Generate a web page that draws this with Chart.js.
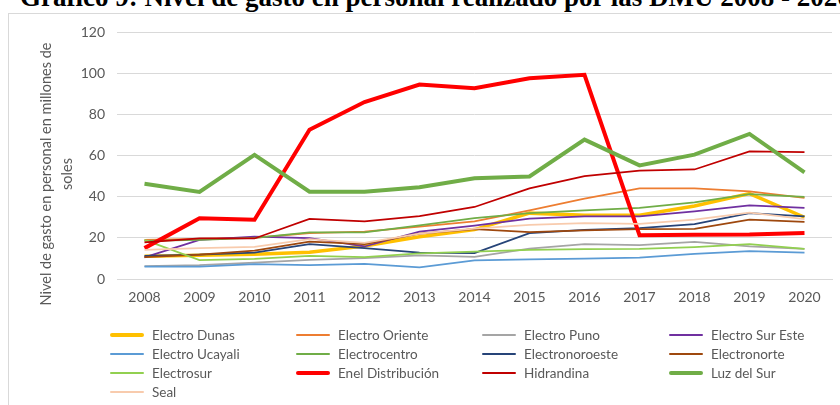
<!DOCTYPE html>
<html>
<head>
<meta charset="utf-8">
<script src="https://cdn.jsdelivr.net/npm/chart.js@4/dist/chart.umd.min.js"></script>
<style>
  html, body { margin: 0; padding: 0; background: #fff; }
  body { width: 840px; height: 405px; position: relative; overflow: hidden; font-family: Lato, "Open Sans", sans-serif; }
  #title { position: absolute; left: 20px; top: -16px; white-space: nowrap; font-family: "Liberation Serif", "DejaVu Serif", serif; font-weight: bold; font-size: 27px; line-height: 27px; color: #000; }
  #frame { position: absolute; left: 8px; top: 13px; width: 850px; height: 420px; border: 1px solid #d9d9d9; box-sizing: border-box; background: #fff; }
  #wrap { position: absolute; left: 0; top: 0; width: 840px; height: 320px; }
  #ytitle { position: absolute; left: 56px; top: 174px; width: 320px; transform: translate(-50%, -50%) rotate(-90deg); text-align: center; font-size: 14.5px; line-height: 21px; color: #595959; }
  #legend { position: absolute; left: 0; top: 0; width: 840px; height: 405px; pointer-events: none; }
  .li { position: absolute; height: 19px; display: flex; align-items: center; font-size: 13.5px; color: #595959; white-space: nowrap; }
  .li span.sw { display: inline-block; width: 34px; margin-right: 8px; border-radius: 2px; }
</style>
</head>
<body>
<div id="frame"></div>
<div id="title">Gráfico 9: Nivel de gasto en personal realizado por las DMU 2008 - 2020</div>
<div id="wrap"><canvas id="c"></canvas></div>
<div id="ytitle">Nivel de gasto en personal en millones de<br>soles</div>
<div id="legend"></div>
<script>
const years = ['2008','2009','2010','2011','2012','2013','2014','2015','2016','2017','2018','2019','2020'];
const yTicks = [0, 20, 40, 60, 80, 100, 120];

const seriesNames = ['Electro Dunas','Electro Oriente','Electro Puno','Electro Sur Este','Electro Ucayali','Electrocentro','Electronoroeste','Electronorte','Electrosur','Enel Distribución','Hidrandina','Luz del Sur','Seal'];

const electroDunas     = [11, 11.5, 12, 13, 16, 20.5, 24, 32, 31, 31, 35.5, 41.5, 30];
const electroOriente   = [19, 19.5, 20, 22.3, 23, 25.5, 28, 33.3, 39, 44, 44, 42.6, 39.4];
const electroPuno      = [6.3, 6.8, 8, 9.3, 10.1, 11.5, 10.8, 14.8, 17, 16.4, 18, 15.8, 14.6];
const electroSurEste   = [10.5, 19, 20.6, 19.8, 15.8, 23, 25.9, 29.3, 30.4, 30.4, 32.9, 35.8, 34.5];
const electroUcayali   = [6, 6, 7.2, 6.7, 7.3, 5.7, 9, 9.5, 9.9, 10.4, 12.2, 13.6, 12.8];
const electrocentro    = [18.5, 19, 20, 22.6, 22.6, 26, 29.6, 32, 33.3, 34.5, 37.2, 41.2, 39.9];
const electronoroeste  = [11.2, 11.8, 12.8, 16.9, 15, 12.8, 12.6, 22.3, 23.9, 24.7, 26.7, 32, 30.4];
const electronorte     = [10.6, 11.9, 13.8, 18.2, 16.9, 22, 24.2, 22.8, 23.6, 24.2, 24.4, 28.8, 27.7];
const electrosur       = [19, 9.2, 9.8, 11.2, 10.6, 12.5, 13.3, 14.1, 14.5, 14.6, 15.5, 16.9, 14.6];
const enelDistribucion = [15, 29.5, 28.8, 72.5, 86, 94.5, 92.7, 97.5, 99.2, 21.3, 21.5, 21.6, 22.4];
const hidrandina       = [17.8, 19.7, 19.7, 29.2, 28, 30.6, 35, 44, 50, 52.7, 53.2, 62, 61.6];
const luzDelSur        = [46.3, 42.3, 60.3, 42.4, 42.4, 44.6, 48.9, 49.8, 67.7, 55.2, 60.4, 70.5, 51.8];
const seal             = [14.1, 15, 15.6, 19.4, 17.5, 22, 24.5, 26.3, 27.2, 26.8, 28.8, 32.2, 29.1];

const seriesValues = [electroDunas, electroOriente, electroPuno, electroSurEste, electroUcayali, electrocentro, electronoroeste, electronorte, electrosur, enelDistribucion, hidrandina, luzDelSur, seal];

const seriesColors = ['#FFC000','#ED7D31','#A5A5A5','#7030A0','#5B9BD5','#70AD47','#264478','#9E480E','#92D050','#FF0000','#C00000','#70AD47','#F8CBAD'];
const seriesWidths = [3.5, 1.75, 1.75, 1.75, 1.75, 1.75, 1.75, 1.75, 1.75, 4, 1.75, 4, 1.75];

const N = seriesNames.length;
const datasets = seriesNames.map((name, i) => ({
  label: name,
  data: seriesValues[i],
  borderColor: seriesColors[i],
  backgroundColor: seriesColors[i],
  borderWidth: seriesWidths[i],
  pointRadius: 0,
  pointHoverRadius: 0,
  tension: 0,
  fill: false,
  order: N - 1 - i
}));

const tickFont = { family: 'Lato', size: 14 };

new Chart(document.getElementById('c'), {
  type: 'line',
  data: { labels: years, datasets },
  options: {
    responsive: true,
    maintainAspectRatio: false,
    animation: false,
    events: [],
    layout: { padding: { top: 32, right: 8, left: 0, bottom: 0 } },
    plugins: { legend: { display: false }, tooltip: { enabled: false } },
    scales: {
      x: {
        type: 'category',
        offset: true,
        grid: { display: false, drawTicks: false },
        border: { display: true, color: '#d9d9d9', width: 1 },
        ticks: { color: '#595959', font: tickFont, padding: 10, maxRotation: 0, autoSkip: false },
        afterFit: s => { s.height = 41; }
      },
      y: {
        min: 0, max: 120,
        afterBuildTicks: s => { s.ticks = yTicks.map(v => ({ value: v })); },
        grid: { color: '#d9d9d9', lineWidth: 1, drawTicks: false },
        border: { display: false },
        ticks: { color: '#595959', font: tickFont, padding: 12 },
        afterFit: s => { s.width = 117; }
      }
    }
  }
});

// HTML legend built from the series arrays
const legend = document.getElementById('legend');
const colX = [110, 296, 482, 669];
const rowY = [335, 354, 373, 392];
seriesNames.forEach((name, i) => {
  const col = i % 4, row = Math.floor(i / 4);
  const d = document.createElement('div');
  d.className = 'li';
  d.style.left = colX[col] + 'px';
  d.style.top = (rowY[row] - 9.5) + 'px';
  const sw = document.createElement('span');
  sw.className = 'sw';
  sw.style.height = (seriesWidths[i] > 3 ? 4 : 2) + 'px';
  sw.style.background = seriesColors[i];
  d.appendChild(sw);
  d.appendChild(document.createTextNode(name));
  legend.appendChild(d);
});
</script>
</body>
</html>
